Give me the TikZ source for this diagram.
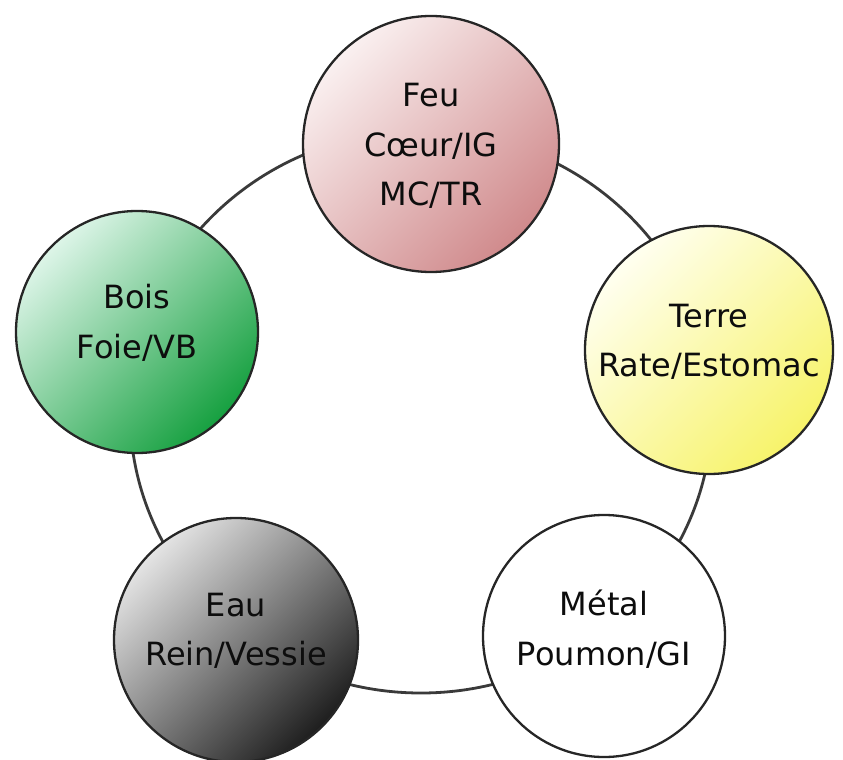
\documentclass[tikz,border=0pt]{standalone}
\usepackage{fontspec}
\setmainfont{DejaVu Sans}
\definecolor{feuA}{HTML}{FAF0F0}
\definecolor{feuB}{HTML}{D08A8C}
\definecolor{terreA}{HTML}{FFFFF0}
\definecolor{terreB}{HTML}{F7F36A}
\definecolor{boisA}{HTML}{DDF5E8}
\definecolor{boisB}{HTML}{16A040}
\definecolor{eauA}{HTML}{E4E4E4}
\definecolor{eauB}{HTML}{1E1E1E}
\definecolor{ringc}{HTML}{3A3A3A}
\definecolor{edgec}{HTML}{262626}
\begin{document}
\begin{tikzpicture}[x=1pt,y=-1pt,
  elem/.style={circle, draw=edgec, line width=2.3pt, inner sep=0pt},
  grad/.style 2 args={shading=axis, top color=#1, bottom color=#2, shading angle=45},
  lab/.style={align=center, font=\fontsize{32}{49.5}\selectfont, text=black!95},
  ring/.style={draw=ringc, line width=2.8pt}]
\useasboundingbox (0,0) rectangle (843,760);
\coordinate (ctr) at (421,412);
\draw[ring] (ctr) ellipse [x radius=291, y radius=281];
\node[elem, grad={feuA}{feuB}, minimum size=256pt] (feu) at (431,144) {};
\node[elem, grad={terreA}{terreB}, minimum size=248pt] (terre) at (709,350) {};
\node[elem, fill=white, minimum size=242pt] (metal) at (604,636) {};
\node[elem, grad={eauA}{eauB}, minimum size=244pt] (eau) at (236,640) {};
\node[elem, grad={boisA}{boisB}, minimum size=242pt] (bois) at (137,332) {};
\node[lab] (feut) at ([yshift=-2pt]feu.center) {Feu\\Cœur/IG\\MC/TR};
\node[lab] (terret) at ([yshift=8pt]terre.center) {Terre\\Rate/Estomac};
\node[lab] (metalt) at ([yshift=7pt]metal.center) {Métal\\Poumon/GI};
\node[lab] (eaut) at ([yshift=9pt]eau.center) {Eau\\Rein/Vessie};
\node[lab] (boist) at ([yshift=9pt]bois.center) {Bois\\Foie/VB};
\end{tikzpicture}
\end{document}
